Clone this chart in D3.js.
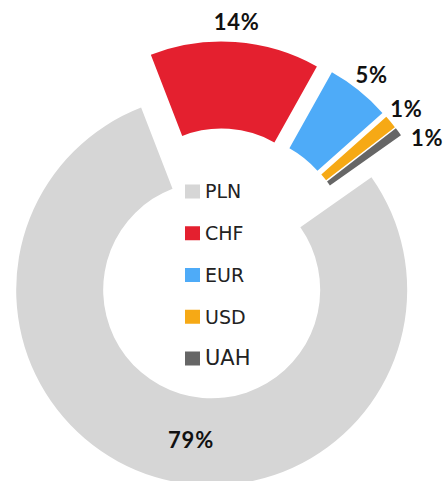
<!DOCTYPE html>
<html>
<head>
<meta charset="utf-8">
<script src="https://cdn.jsdelivr.net/npm/d3@7"></script>
<style>
  body { margin: 0; background: #fff; }
  svg { display: block; }
</style>
</head>
<body>
<script>
// currency shares (percent)
const categories = ["PLN", "CHF", "EUR", "USD", "UAH"];
const shares = [78.9, 14, 5.3, 1.1, 0.7];
const colors = ["#d6d6d6", "#e4202f", "#4eabf8", "#f6a915", "#666666"];

var width = 446, height = 481;
var cx = 219.5, cy = 264;
var outerR = 195.5, innerR = 108.5, explode = 27, labelR = 243;
var start = 54.8 * Math.PI / 180;

var data = categories.map((c, i) => ({name: c, value: shares[i], color: colors[i]}));
var total = d3.sum(data, d => d.value);

var svg = d3.select("body").append("svg")
    .attr("width", width)
    .attr("height", height);

var g = svg.append("g")
    .attr("transform", "translate(" + cx + "," + cy + ")");

var pie = d3.pie()
    .sort(null)
    .value(d => d.value)
    .startAngle(start)
    .endAngle(start + 2 * Math.PI);

var arc = d3.arc()
    .innerRadius(innerR)
    .outerRadius(outerR);

var arcs = pie(data);
var mid = d => (d.startAngle + d.endAngle) / 2;

// exploded slices
g.selectAll(".slice")
    .data(arcs)
    .enter().append("path")
    .attr("class", "slice")
    .attr("d", arc)
    .attr("fill", d => d.data.color)
    .attr("transform", d => "translate(" + (explode * Math.sin(mid(d))) + "," + (-explode * Math.cos(mid(d))) + ")");

// label positions
var labels = arcs.map(d => {
    var a = mid(d), x, y;
    if (d.data.value > 50) {
        // big slice gets its label inside the ring
        var a2 = a - 9 * Math.PI / 180, rr = (innerR + outerR) / 2;
        x = explode * Math.sin(a) + rr * Math.sin(a2);
        y = -explode * Math.cos(a) - rr * Math.cos(a2);
    } else {
        x = labelR * Math.sin(a);
        y = -labelR * Math.cos(a);
    }
    return {d: d, x: x, y: y, outside: d.data.value <= 50};
});

// push overlapping labels on the right side down along the circle
var right = labels.filter(l => l.outside && l.x > 0).sort((a, b) => a.y - b.y);
for (var i = 1; i < right.length; i++) {
    if (right[i].y - right[i - 1].y < 29) {
        right[i].y = right[i - 1].y + 29;
        right[i].x = Math.sqrt(labelR * labelR - right[i].y * right[i].y);
    }
}

g.selectAll(".pct")
    .data(labels)
    .enter().append("text")
    .attr("class", "pct")
    .attr("x", l => l.x)
    .attr("y", l => l.y)
    .attr("dy", "0.36em")
    .attr("text-anchor", "middle")
    .attr("font-family", "Lato, sans-serif")
    .attr("font-weight", "bold")
    .attr("font-size", "22px")
    .attr("letter-spacing", "0.8px")
    .attr("fill", "#111")
    .text(l => Math.round(l.d.data.value / total * 100) + "%");

// legend in the hole
var legend = g.append("g")
    .attr("transform", "translate(-34.5,-79.5)")
    .selectAll("g")
    .data(data)
    .enter().append("g")
    .attr("transform", (d, i) => "translate(0," + i * 41.75 + ")");

legend.append("rect")
    .attr("width", 15)
    .attr("height", 14)
    .attr("fill", d => d.color);

legend.append("text")
    .attr("x", 20)
    .attr("y", 13.8)
    .attr("font-family", "DejaVu Sans, sans-serif")
    .attr("font-size", d => d.name === "UAH" ? "21px" : "19px")
    .attr("fill", "#222")
    .text(d => d.name);
</script>
</body>
</html>
